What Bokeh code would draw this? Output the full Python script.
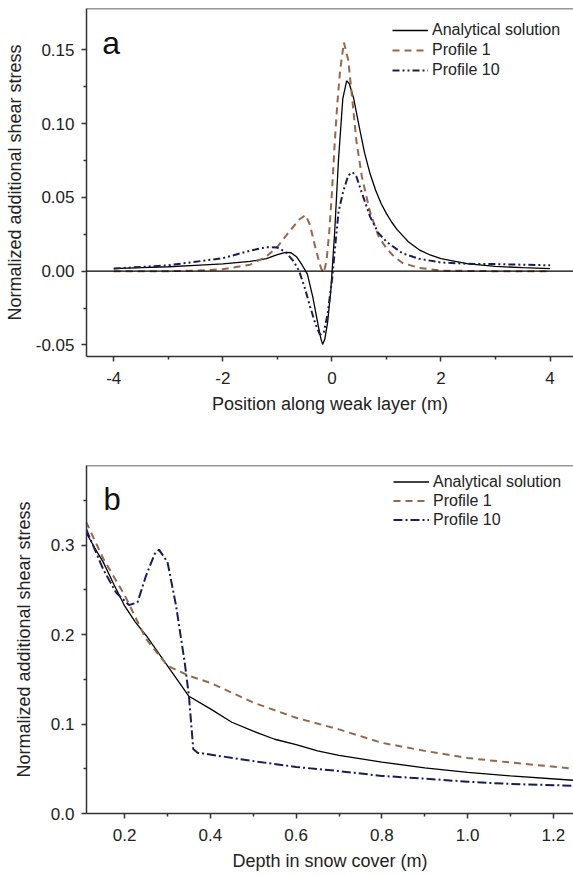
from bokeh.plotting import figure
from bokeh.models import Range1d, FixedTicker, Span, Label, Legend, LegendItem, CustomJSTickFormatter
from bokeh.layouts import column
from bokeh.embed import file_html
from bokeh.resources import INLINE

# ---------------- Panel a data ----------------
a_an_x = [-4, -3.5, -3, -2.5, -2, -1.5, -1.2, -1.0, -0.85, -0.75, -0.65, -0.55, -0.45, -0.35, -0.25,
          -0.2, -0.17, -0.13, -0.08, -0.02, 0.05, 0.12, 0.2, 0.27, 0.32, 0.4, 0.5, 0.6, 0.7, 0.8,
          0.9, 1.0, 1.1, 1.2, 1.4, 1.6, 1.8, 2.0, 2.5, 3.0, 3.5, 4.0]
a_an_y = [0.0018, 0.0024, 0.003, 0.004, 0.005, 0.0066, 0.0085, 0.0112, 0.0128, 0.0125, 0.0098,
          0.0044, -0.002, -0.0176, -0.037, -0.046, -0.0496, -0.046, -0.035, -0.013, 0.026, 0.075,
          0.117, 0.129, 0.127, 0.117, 0.098, 0.080, 0.066, 0.055, 0.046, 0.039, 0.033, 0.028,
          0.020, 0.0145, 0.011, 0.0085, 0.0050, 0.0032, 0.0024, 0.0018]

a_p1_x = [-4, -3, -2.5, -2, -1.5, -1.2, -1.0, -0.8, -0.6, -0.48, -0.4, -0.3, -0.2, -0.15, -0.1,
          -0.05, 0.0, 0.05, 0.1, 0.15, 0.22, 0.3, 0.38, 0.45, 0.55, 0.7, 0.85, 1.0, 1.15, 1.3, 1.6,
          2.0, 3.0, 4.0]
a_p1_y = [0.0, 0.0, 0.0004, 0.0013, 0.0044, 0.01, 0.0165, 0.026, 0.035, 0.038, 0.031, 0.0154,
          0.002, -0.001, 0.0066, 0.026, 0.053, 0.086, 0.114, 0.136, 0.155, 0.143, 0.114, 0.088,
          0.064, 0.040, 0.024, 0.0154, 0.0095, 0.0055, 0.0022, 0.0004, 0.0, 0.0]

a_p10_x = [-4, -3, -2, -1.5, -1.2, -1.0, -0.85, -0.7, -0.6, -0.5, -0.4, -0.3, -0.22, -0.15, -0.08,
           0.0, 0.05, 0.12, 0.2, 0.3, 0.38, 0.45, 0.55, 0.7, 0.85, 1.0, 1.3, 1.6, 2.0, 2.5, 3.0,
           3.5, 4.0]
a_p10_y = [0.0018, 0.004, 0.0088, 0.0139, 0.0163, 0.016, 0.013, 0.0066, 0.0, -0.011, -0.024,
           -0.036, -0.043, -0.042, -0.029, -0.0066, 0.013, 0.040, 0.053, 0.065, 0.067, 0.064,
           0.053, 0.037, 0.026, 0.020, 0.012, 0.0084, 0.0059, 0.005, 0.0048, 0.0044, 0.004]

a_xticks = [-4, -2, 0, 2, 4]
a_xminor = [-3, -1, 1, 3]
a_yticks = [-0.05, 0.0, 0.05, 0.10, 0.15]
a_yminor = [-0.025, 0.025, 0.075, 0.125]

# ---------------- Panel b data ----------------
b_an_x = [0.11, 0.13, 0.15, 0.175, 0.2, 0.225, 0.25, 0.3, 0.35, 0.4, 0.45, 0.5, 0.55, 0.6, 0.65,
          0.7, 0.8, 0.9, 1.0, 1.1, 1.25]
b_an_y = [0.314, 0.297, 0.281, 0.256, 0.232, 0.214, 0.199, 0.165, 0.131, 0.117, 0.102, 0.092,
          0.083, 0.077, 0.070, 0.065, 0.0575, 0.051, 0.046, 0.042, 0.037]

b_p1_x = [0.11, 0.15, 0.2, 0.25, 0.3, 0.35, 0.4, 0.5, 0.6, 0.7, 0.8, 0.9, 1.0, 1.1, 1.25]
b_p1_y = [0.326, 0.285, 0.244, 0.195, 0.165, 0.154, 0.146, 0.124, 0.107, 0.094, 0.079, 0.070,
          0.062, 0.057, 0.050]

b_p10_x = [0.11, 0.15, 0.18, 0.21, 0.23, 0.25, 0.27, 0.28, 0.3, 0.32, 0.34, 0.35, 0.36, 0.37,
           0.5, 0.6, 0.7, 0.8, 0.9, 1.0, 1.1, 1.25]
b_p10_y = [0.318, 0.273, 0.247, 0.233, 0.236, 0.266, 0.290, 0.295, 0.281, 0.232, 0.169, 0.131,
           0.072, 0.068, 0.0586, 0.052, 0.0474, 0.042, 0.039, 0.0355, 0.033, 0.031]

b_xticks = [0.2, 0.4, 0.6, 0.8, 1.0, 1.2]
b_xminor = [0.3, 0.5, 0.7, 0.9, 1.1]
b_yticks = [0.0, 0.1, 0.2, 0.3]
b_yminor = [0.05, 0.15, 0.25, 0.35]

series_names = ["Analytical solution", "Profile 1", "Profile 10"]

FONT = "Liberation Sans"
BROWN = "#97674c"
NAVY = "#1c1c55"
AXC = "#333333"
TXT = "#222222"


def style(p, xt, xm, yt, ym, ytitle_standoff):
    p.outline_line_color = None
    p.grid.visible = False
    p.background_fill_color = "white"
    p.border_fill_color = "white"
    for ax in (p.xaxis[0], p.yaxis[0]):
        ax.axis_line_color = AXC
        ax.axis_line_width = 1.5
        ax.major_tick_line_color = AXC
        ax.major_tick_line_width = 1.5
        ax.minor_tick_line_color = AXC
        ax.minor_tick_line_width = 1.5
        ax.major_tick_in = 0
        ax.major_tick_out = 5
        ax.minor_tick_in = 0
        ax.minor_tick_out = 3
        ax.major_label_text_font = FONT
        ax.major_label_text_font_size = "17px"
        ax.major_label_text_color = TXT
        ax.axis_label_text_font = FONT
        ax.axis_label_text_font_size = "18px"
        ax.axis_label_text_font_style = "normal"
        ax.axis_label_text_color = TXT
    p.xaxis[0].ticker = FixedTicker(ticks=xt, minor_ticks=xm)
    p.yaxis[0].ticker = FixedTicker(ticks=yt, minor_ticks=ym)
    p.xaxis[0].major_label_standoff = 10
    p.xaxis[0].axis_label_standoff = 7
    p.yaxis[0].major_label_standoff = 7
    p.yaxis[0].axis_label_standoff = ytitle_standoff
    p.add_layout(Span(location=p.y_range.end, dimension="width", line_color=AXC, line_width=1.5))


def add_legend(p, renderers, loc, row_h):
    items = [LegendItem(label=n, renderers=[r]) for n, r in zip(series_names, renderers)]
    leg = Legend(items=items, location=loc, padding=0, margin=0, spacing=0,
                 glyph_width=36, glyph_height=row_h, label_height=row_h, label_standoff=4,
                 label_text_font=FONT, label_text_font_size="16px", label_text_color=TXT,
                 background_fill_alpha=0, border_line_color=None)
    p.add_layout(leg)


# ---------------- Panel a ----------------
pa = figure(width=573, height=450, output_backend="svg", toolbar_location=None,
            x_range=Range1d(-4.5, 4.43), y_range=Range1d(-0.0578, 0.178),
            min_border_left=86, min_border_right=0, min_border_top=8, min_border_bottom=94,
            x_axis_label="Position along weak layer (m)",
            y_axis_label="Normalized additional shear stress")
style(pa, a_xticks, a_xminor, a_yticks, a_yminor, 8)
pa.yaxis[0].formatter = CustomJSTickFormatter(code="return tick.toFixed(2);")
pa.xaxis[0].formatter = CustomJSTickFormatter(code="return tick.toFixed(0);")
pa.add_layout(Span(location=0, dimension="width", line_color="black", line_width=1.3))
ra1 = pa.line(a_an_x, a_an_y, line_color="black", line_width=1.3)
ra2 = pa.line(a_p1_x, a_p1_y, line_color=BROWN, line_width=2, line_dash="7 5")
ra3 = pa.line(a_p10_x, a_p10_y, line_color=NAVY, line_width=2, line_dash="7 3 2 3 2 3")
add_legend(pa, [ra1, ra2, ra3], (306, 276), 20)
pa.add_layout(Label(x=-4.21, y=0.1547, text="a", text_font=FONT, text_font_size="32px",
                    text_color="#111111", text_baseline="alphabetic"))

# ---------------- Panel b ----------------
pb = figure(width=573, height=426, output_backend="svg", toolbar_location=None,
            x_range=Range1d(0.111, 1.247), y_range=Range1d(0.0, 0.389),
            min_border_left=86, min_border_right=0, min_border_top=15, min_border_bottom=63,
            x_axis_label="Depth in snow cover (m)",
            y_axis_label="Normalized additional shear stress")
style(pb, b_xticks, b_xminor, b_yticks, b_yminor, 14)
pb.yaxis[0].formatter = CustomJSTickFormatter(code="return tick.toFixed(1);")
pb.xaxis[0].formatter = CustomJSTickFormatter(code="return tick.toFixed(1);")
rb1 = pb.line(b_an_x, b_an_y, line_color="black", line_width=1.3)
rb2 = pb.line(b_p1_x, b_p1_y, line_color=BROWN, line_width=2, line_dash="7 5")
rb3 = pb.line(b_p10_x, b_p10_y, line_color=NAVY, line_width=2, line_dash="9 3 2 3")
add_legend(pb, [rb1, rb2, rb3], (307, 284), 19)
pb.add_layout(Label(x=0.1505, y=0.351, text="b", text_font=FONT, text_font_size="31px",
                    text_color="#111111", text_baseline="alphabetic"))

layout = column(pa, pb, spacing=0)
open("out.html", "w").write(file_html(layout, INLINE))
